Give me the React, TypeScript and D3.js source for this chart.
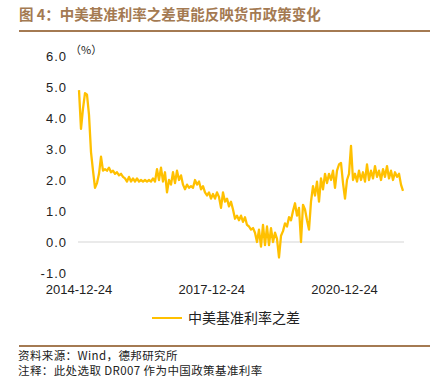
import React from "react";
import * as d3 from "d3";

const titleText = "图 4：中美基准利率之差更能反映货币政策变化";
const seriesName = "中美基准利率之差";
const sourceText = "资料来源：Wind，德邦研究所";
const noteText = "注释：此处选取 DR007 作为中国政策基准利率";
const unitText = "（%）";

const startDate = "2014-12-24";
const endDate = "2022-04-20";
const xTickLabels = ["2014-12-24", "2017-12-24", "2020-12-24"];
const yTicks = [-1, 0, 1, 2, 3, 4, 5, 6];

// sampled spread values (%), evenly spaced between startDate and endDate
const values = [
  4.9, 3.65, 4.3, 4.8, 4.75, 4.1, 2.9, 2.3, 1.75, 1.9,
  2.2, 2.75, 2.3, 2.35, 2.3, 2.4, 2.25, 2.3, 2.2, 2.25,
  2.15, 2.2, 2.1, 2.05, 1.95, 2.1, 1.95, 2.05, 1.95, 2.05,
  1.95, 2.0, 1.95, 2.0, 1.95, 2.0, 1.95, 2.05, 1.95, 2.35,
  2.0, 2.4, 1.95, 2.25, 1.6, 2.0, 1.85, 2.25, 1.9, 2.3,
  2.0, 2.15, 1.85, 1.7, 1.85, 1.75, 1.8, 1.75, 2.0, 1.85,
  1.95, 1.7, 1.8, 1.6, 1.5, 1.6, 1.4, 1.55, 1.4, 1.6,
  1.45, 1.1, 1.6, 1.3, 1.4, 1.15, 1.3, 1.05, 0.75, 0.85,
  0.7, 0.85, 0.65, 0.8, 0.55, 0.5, 0.4, 0.45, 0.3, 0.0,
  0.4, -0.15, 0.55, -0.1, 0.5, -0.1, 0.45, 0.0, 0.3, 0.1,
  -0.5, 0.2, 0.35, 0.6, 0.5, 0.8, 0.7, 1.0, 1.25, 0.85,
  1.1, 0.0, 1.2, 1.05, 0.7, 0.4, 1.3, 1.8, 1.5, 1.95,
  1.3, 2.05, 1.7, 2.2, 1.9, 2.2, 2.0, 2.3, 1.75, 2.3,
  2.5, 2.55, 1.9, 1.4, 2.0, 2.2, 3.1, 2.0, 2.2, 1.95,
  2.3, 2.0, 2.25, 1.95, 2.5, 2.0, 2.3, 2.05, 2.45, 2.1,
  2.3, 2.0, 2.35, 2.1, 2.45, 2.05, 2.3, 2.0, 2.25, 2.1,
  2.2, 1.85, 1.65,
];

const W = 448;
const H = 377;
const brown = "#A47A52";
const lineColor = "#FFC000";
const numFont = "'Liberation Sans', Arial, sans-serif";
const cjkFont = "'Noto Sans CJK SC', sans-serif";

export default function App() {
  const parse = d3.timeParse("%Y-%m-%d");
  const t0 = parse(startDate) as Date;
  const t1 = parse(endDate) as Date;
  const n = values.length;
  const dates = values.map(
    (_, i) => new Date(t0.getTime() + ((t1.getTime() - t0.getTime()) * i) / (n - 1))
  );

  const x = d3.scaleTime().domain([t0, t1]).range([79, 403]);
  const y = d3.scaleLinear().domain([-1, 6]).range([273, 56]);

  const line = d3
    .line<number>()
    .x((_, i) => x(dates[i]))
    .y((d) => y(d))
    .curve(d3.curveLinear);

  return (
    <svg
      width={W}
      height={H}
      style={{ position: "absolute", left: 0, top: 0, background: "#fff" }}
    >
      <text
        x={19}
        y={20}
        fill={brown}
        fontFamily={cjkFont}
        fontWeight={700}
        fontSize={14.5}
      >
        {titleText}
      </text>
      <line x1={19} x2={430} y1={31} y2={31} stroke={brown} strokeWidth={2} />

      {yTicks.map((t) => (
        <text
          key={t}
          x={67}
          y={y(t)}
          dy="0.35em"
          textAnchor="end"
          fontFamily={numFont}
          fontSize={13}
          letterSpacing={1}
          fill="#222"
        >
          {d3.format(".1f")(t).replace("−", "-")}
        </text>
      ))}
      <text x={70} y={54} fontFamily={cjkFont} fontSize={11} fill="#222">
        {unitText}
      </text>

      <line
        x1={x(t0) - 1}
        x2={x(t1) + 1}
        y1={y(0)}
        y2={y(0)}
        stroke="#E3E3E3"
        strokeWidth={1.5}
      />

      <path
        d={line(values) || ""}
        fill="none"
        stroke={lineColor}
        strokeWidth={2.3}
        strokeLinejoin="round"
      />

      {xTickLabels.map((s) => (
        <text
          key={s}
          x={x(parse(s) as Date)}
          y={294}
          textAnchor="middle"
          fontFamily={numFont}
          fontSize={13}
          fill="#222"
        >
          {s}
        </text>
      ))}

      <line x1={152} x2={182} y1={318} y2={318} stroke={lineColor} strokeWidth={2} />
      <text x={188} y={323} fontFamily={cjkFont} fontSize={14} fill="#222">
        {seriesName}
      </text>

      <line x1={19} x2={430} y1={346} y2={346} stroke={brown} strokeWidth={2} />
      <text x={18} y={360} fontFamily={cjkFont} fontSize={11.5} letterSpacing={0.4} fill="#222">
        {sourceText}
      </text>
      <text x={18} y={375} fontFamily={cjkFont} fontSize={11.5} letterSpacing={0.4} fill="#222">
        {noteText}
      </text>
    </svg>
  );
}
